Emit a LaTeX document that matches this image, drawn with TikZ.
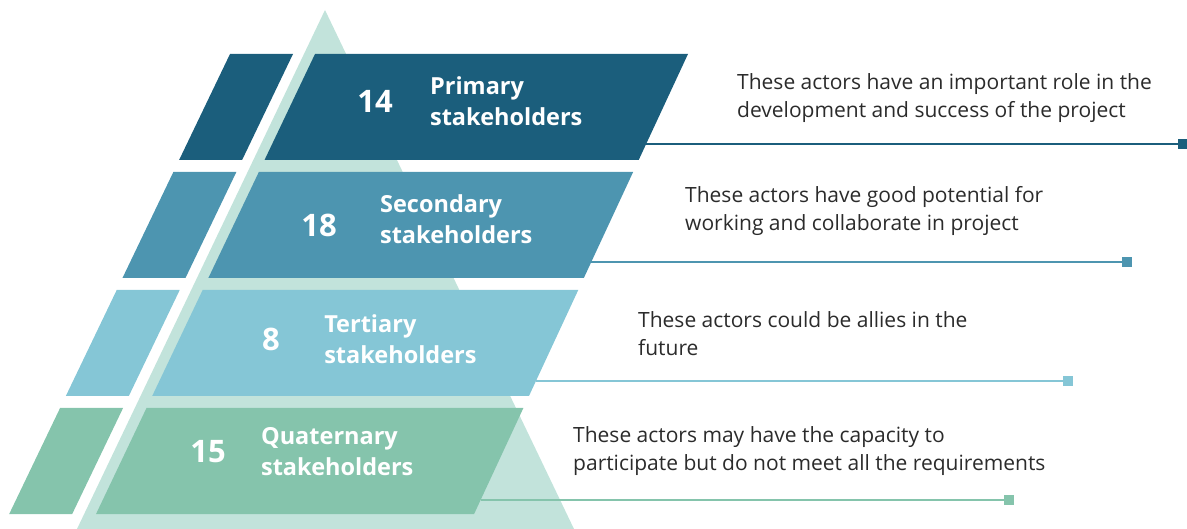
\documentclass[tikz,border=0pt]{standalone}
\usepackage{fontspec}
\setmainfont{Open Sans}
\usepackage{xcolor}
\usetikzlibrary{positioning}
\definecolor{bandA}{HTML}{1B5E7C}
\definecolor{bandB}{HTML}{4D95B0}
\definecolor{bandC}{HTML}{85C6D6}
\definecolor{bandD}{HTML}{85C4AC}
\definecolor{pyramid}{HTML}{C2E3DB}
\definecolor{notegray}{HTML}{2B2B2B}
\tikzset{
 stk count/.style={text=white,inner sep=0pt,font=\bfseries\fontsize{31}{31}\selectfont},
 stk label/.style={text=white,inner sep=0pt,anchor=west,align=left,
                   font=\bfseries\fontsize{23.5}{31}\selectfont},
 stk note/.style={text=notegray,inner sep=0pt,anchor=west,align=left,
                  font=\fontsize{21}{28}\selectfont},
 stk rule/.style={line width=2pt,draw=#1},
 stk marker/.style={fill=#1,minimum size=10pt,inner sep=0pt,outer sep=0pt}
}

\begin{document}
\begin{tikzpicture}[x=1pt,y=-1pt]
 \useasboundingbox (0,0) rectangle (1187,529);
 % light pyramid behind the bands
 \fill[pyramid] (325,10) -- (574,529) -- (77,529) -- cycle;

 % each band: a slanted main strip, a small strip to its left,
 % and a rule ending in a square marker
 \foreach \i/\col/\mx in {0/bandA/1183,1/bandB/1127,2/bandC/1068,3/bandD/1009}{
   \pgfmathsetmacro\t{54+118*\i}
   \pgfmathsetmacro\b{\t+106}
   \pgfmathsetmacro\r{\b-16+1.5*(\i>1)}
   \fill[\col] ({315-0.476*(\t-54)},\t) -- ({688-0.465*(\t-54)},\t)
     -- ({688-0.465*(\b-54)},\b) -- ({315-0.476*(\b-54)},\b) -- cycle;
   \fill[\col] ({230-0.48*(\t-54)},\t) -- ({293-0.48*(\t-54)},\t)
     -- ({293-0.48*(\b-54)},\b) -- ({230-0.48*(\b-54)},\b) -- cycle;
   \coordinate (e\i) at ({688-0.465*(\r-54)},\r);
   \node[stk marker=\col] (m\i) at (\mx,\r) {};
   \draw[stk rule=\col] (e\i) -- (m\i);
 }

 \node[stk count] (n0) at (375,101) {14};
 \node[stk label,right=37pt of n0] (l0) {Primary\\stakeholders};
 \node[stk count] (n1) at (319,225) {18};
 \node[stk label,right=43pt of n1.east,anchor=west,yshift=6pt] (l1) {Secondary\\stakeholders};
 \node[stk count] (n2) at (271,339) {8};
 \node[stk label,right=44pt of n2] (l2) {Tertiary\\stakeholders};
 \node[stk count] (n3) at (208,452) {15};
 \node[stk label,right=35pt of n3] (l3) {Quaternary\\stakeholders};

 \node[stk note] (t0) at (737,98) {These actors have an important role in the\\development and success of the project};
 \node[stk note] (t1) at (685,211) {These actors have good potential for\\working and collaborate in project};
 \node[stk note] (t2) at (638,334) {These actors could be allies in the\\future};
 \node[stk note] (t3) at (573,451) {These actors may have the capacity to\\participate but do not meet all the requirements};
\end{tikzpicture}
\end{document}
